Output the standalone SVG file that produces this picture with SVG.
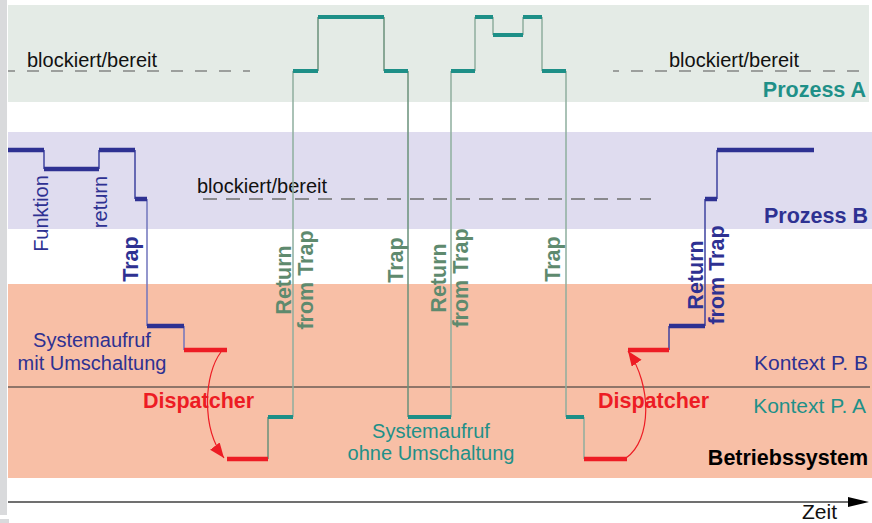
<svg xmlns="http://www.w3.org/2000/svg" width="872" height="523" viewBox="0 0 872 523">
  <style>
    text { font-family: "Liberation Sans", Arial, sans-serif; }
    .lbl { font-size: 20px; }
    .big { font-size: 21.5px; font-weight: bold; }
    .blue { fill: #2e3192; }
    .teal { fill: #1f9088; }
    .green { fill: #5e8a6e; }
    .red { fill: #ed1c24; }
    .barB { stroke: #2e3192; stroke-width: 4.5; fill: none; }
    .barA { stroke: #1d8f87; stroke-width: 4.2; fill: none; }
    .barR { stroke: #ed1c24; stroke-width: 4.5; fill: none; }
    .vB { stroke: #3f43a0; stroke-width: 1.5; fill: none; }
    .vBl { stroke: #7275bd; stroke-width: 1.5; fill: none; }
    .vA { stroke: #6a917b; stroke-width: 1.5; fill: none; }
    .vAl { stroke: #8fae9e; stroke-width: 1.5; fill: none; }
    .dash { stroke: #555555; stroke-width: 1.2; stroke-dasharray: 12 12; fill: none; }
    .dashB { stroke: #6e6e6e; stroke-width: 1.5; stroke-dasharray: 14 9; fill: none; }
  </style>
  <defs>
    <marker id="redArrow" markerWidth="16" markerHeight="13" refX="15" refY="6" orient="auto" markerUnits="userSpaceOnUse">
      <path d="M0,0 L15,6 L0,12 z" fill="#ed1c24"/>
    </marker>
  </defs>

  <rect width="872" height="523" fill="#ffffff"/>
  <!-- left margin strip -->
  <rect x="0" y="0" width="7" height="515" fill="#d9dadc"/>
  <rect x="0" y="519" width="9" height="4" fill="#d9dadc"/>

  <!-- background bands -->
  <g id="bands">
    <rect id="band-prozess-a" x="8" y="5" width="861" height="97" fill="#e4ebe6"/>
    <rect id="band-prozess-b" x="8" y="132" width="864" height="97" fill="#dfdcef"/>
    <rect id="band-betriebssystem" x="8" y="284" width="864" height="194" fill="#f8bfa6"/>
    <line x1="8" y1="387" x2="870" y2="387" stroke="#6c5d55" stroke-width="1.5"/>
  </g>

  <!-- blocked/ready levels -->
  <g id="levels">
    <line class="dash" x1="8" y1="71" x2="250" y2="71" stroke-dashoffset="5"/>
    <line class="dash" x1="613" y1="71" x2="869" y2="71" stroke-dashoffset="6"/>
    <line class="dashB" x1="203" y1="199" x2="651" y2="199"/>
    <text class="lbl" x="27" y="67" fill="#111">blockiert/bereit</text>
    <text class="lbl" x="669" y="67" fill="#111">blockiert/bereit</text>
    <text class="lbl" x="197" y="193" fill="#111">blockiert/bereit</text>
  </g>

  <!-- time axis -->
  <g id="time-axis">
    <line x1="8" y1="502" x2="852" y2="502" stroke="#707070" stroke-width="2"/>
    <polygon points="848,497 869,502 848,507" fill="#000"/>
    <text class="lbl" x="802" y="519" fill="#111" style="font-size:21px">Zeit</text>
  </g>

  <!-- execution trace -->
  <g id="connectors">
    <!-- process B -->
    <g id="trace-b">
      <path class="vB" d="M44 150 V169 M99 169 V150 M135 150 V199 M705 199 V326 M717 199 V150 M669 350 V326"/>
      <path class="vBl" d="M147 199 V326 M184 326 V350"/>
      <path class="barB" d="M8 150 H44 M44 169 H99 M99 150 H135 M135 199 H147 M147 326 H184 M669 326 H705 M705 199 H717 M717 150 H814"/>
    </g>
    <!-- process A -->
    <g id="trace-a">
      <path class="vA" d="M268 459 V417 M318 71 V17 M384 17 V71 M408 71 V417"/>
      <path class="vAl" d="M293 417 V71 M451 417 V71 M475 71 V17 M493 17 V35 M523 35 V17 M542 17 V71 M566 71 V417 M584 417 V459"/>
      <path class="barA" d="M268 417 H293 M293 71 H318 M318 17 H384 M384 71 H408 M408 417 H451 M451 71 H475 M475 17 H493 M493 35 H523 M523 17 H542 M542 71 H566 M566 417 H584"/>
    </g>
    <!-- dispatcher -->
    <g id="trace-dispatcher">
      <path class="barR" d="M184 350 H227 M227 459 H268 M584 459 H627 M628 350 H669"/>
      <path d="M221 352 C204 374, 201 428, 224 458" stroke="#ed1c24" stroke-width="1.2" fill="none" marker-end="url(#redArrow)"/>
      <path d="M626 458 C652 440, 652 385, 628 351" stroke="#ed1c24" stroke-width="1.2" fill="none" marker-end="url(#redArrow)"/>
    </g>
  </g>

  <!-- row labels -->
  <g id="label-prozess-a"><text class="big teal" x="866" y="97" text-anchor="end">Prozess A</text></g>
  <g id="label-prozess-b"><text class="big blue" x="868" y="223" text-anchor="end">Prozess B</text></g>
  <g id="label-kontext-b"><text class="blue" x="868" y="370" text-anchor="end" style="font-size:21px">Kontext P. B</text></g>
  <g id="label-kontext-a"><text class="teal" x="866" y="413" text-anchor="end" style="font-size:21px">Kontext P. A</text></g>
  <g id="label-betriebssystem"><text class="big" x="868" y="465" text-anchor="end" fill="#000">Betriebssystem</text></g>

  <!-- event labels -->
  <g id="label-funktion"><text class="lbl blue" transform="translate(48,213.5) rotate(-90)" text-anchor="middle">Funktion</text></g>
  <g id="label-return"><text class="lbl blue" transform="translate(107,202) rotate(-90)" text-anchor="middle">return</text></g>
  <g id="label-trap-1"><text class="big blue" transform="translate(138,259) rotate(-90)" text-anchor="middle">Trap</text></g>
  <g id="label-rft-1">
    <text class="big green" transform="translate(291,280) rotate(-90)" text-anchor="middle"><tspan x="0" y="0">Return</tspan><tspan x="0" y="21.5">from Trap</tspan></text>
  </g>
  <g id="label-trap-2"><text class="big green" transform="translate(403,260) rotate(-90)" text-anchor="middle">Trap</text></g>
  <g id="label-rft-2">
    <text class="big green" transform="translate(446,278) rotate(-90)" text-anchor="middle"><tspan x="0" y="0">Return</tspan><tspan x="0" y="21.5">from Trap</tspan></text>
  </g>
  <g id="label-trap-3"><text class="big green" transform="translate(560,259) rotate(-90)" text-anchor="middle">Trap</text></g>
  <g id="label-rft-3">
    <text class="big blue" transform="translate(702.5,275) rotate(-90)" text-anchor="middle"><tspan x="0" y="0">Return</tspan><tspan x="0" y="21.5">from Trap</tspan></text>
  </g>

  <g id="label-syscall-switch">
    <text class="lbl blue" text-anchor="middle"><tspan x="92" y="347">Systemaufruf</tspan><tspan x="92" y="370">mit Umschaltung</tspan></text>
  </g>
  <g id="label-syscall-noswitch">
    <text class="lbl teal" text-anchor="middle"><tspan x="431" y="438">Systemaufruf</tspan><tspan x="431" y="460">ohne Umschaltung</tspan></text>
  </g>
  <g id="label-dispatcher-1"><text class="big red" x="143" y="408">Dispatcher</text></g>
  <g id="label-dispatcher-2"><text class="big red" x="598" y="408">Dispatcher</text></g>
</svg>
